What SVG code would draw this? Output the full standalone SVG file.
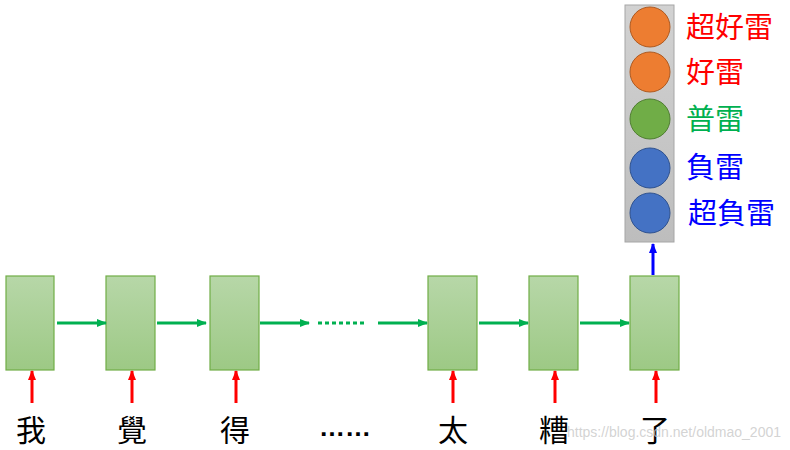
<svg xmlns="http://www.w3.org/2000/svg" width="790" height="450" viewBox="0 0 790 450">
<defs>
<linearGradient id="g" x1="0" y1="0" x2="0" y2="1"><stop offset="0" stop-color="#b7d7a8"/><stop offset="1" stop-color="#9dc985"/></linearGradient>
<linearGradient id="gp" x1="0" y1="0" x2="0" y2="1"><stop offset="0" stop-color="#d2d2d2"/><stop offset="1" stop-color="#bdbdbd"/></linearGradient>
<marker id="ag" viewBox="0 0 10 8" markerWidth="10" markerHeight="8" refX="9" refY="4" orient="auto" markerUnits="userSpaceOnUse"><path d="M0,0L10,4L0,8z" fill="#00b050"/></marker>
<marker id="ar2" viewBox="0 0 10 8" markerWidth="10" markerHeight="8" refX="9" refY="4" orient="auto" markerUnits="userSpaceOnUse"><path d="M0,0L10,4L0,8z" fill="#ff0000"/></marker>
<marker id="ab" viewBox="0 0 10 8" markerWidth="10" markerHeight="8" refX="9" refY="4" orient="auto" markerUnits="userSpaceOnUse"><path d="M0,0L10,4L0,8z" fill="#0000ff"/></marker>
</defs>
<style>
.box{fill:url(#g);stroke:#70ad47;stroke-width:1.2}
.w{font-family:"Liberation Serif","Noto Sans CJK TC",serif;font-size:30px;fill:#000;text-anchor:middle}
.l{font-family:"Liberation Serif","Noto Sans CJK TC",serif;font-size:29px}
.ga{stroke:#00b050;stroke-width:3;fill:none;marker-end:url(#ag)}
.ra{stroke:#ff0000;stroke-width:3;fill:none;marker-end:url(#ar2)}
</style>
<g id="output">
<rect x="625" y="5" width="49" height="237" fill="url(#gp)" stroke="#a6a6a6"/>
<circle cx="650" cy="27" r="20" fill="#ed7d31" stroke="#ae5a21"/>
<circle cx="650" cy="72" r="20" fill="#ed7d31" stroke="#ae5a21"/>
<circle cx="650" cy="119" r="20" fill="#70ad47" stroke="#507e32"/>
<circle cx="650" cy="168" r="20" fill="#4472c4" stroke="#2f528f"/>
<circle cx="650" cy="213" r="20" fill="#4472c4" stroke="#2f528f"/>
<text class="l" x="686" y="38" fill="#ff0000">超好雷</text>
<text class="l" x="686" y="83" fill="#ff0000">好雷</text>
<text class="l" x="686" y="130" fill="#00b050">普雷</text>
<text class="l" x="686" y="178" fill="#0000ff">負雷</text>
<text class="l" x="688" y="224" fill="#0000ff">超負雷</text>
</g>
<g id="n1"><rect class="box" x="6" y="276" width="48" height="94"/><text class="w" x="31" y="441">我</text></g>
<g id="n2"><rect class="box" x="106" y="276" width="49" height="94"/><text class="w" x="132" y="441">覺</text></g>
<g id="n3"><rect class="box" x="210" y="276" width="49" height="94"/><text class="w" x="235" y="441">得</text></g>
<g id="n4"><rect class="box" x="428" y="276" width="49" height="94"/><text class="w" x="453" y="441">太</text></g>
<g id="n5"><rect class="box" x="529" y="276" width="49" height="94"/><text class="w" x="554" y="441">糟</text></g>
<g id="n6"><rect class="box" x="630" y="276" width="49" height="94"/><text class="w" x="655" y="441">了</text></g>
<g id="dots"><text x="345" y="436" font-family="Liberation Sans,sans-serif" font-weight="bold" font-size="26" text-anchor="middle">……</text></g>
<g id="connectors">
<line class="ga" x1="57" y1="323" x2="106" y2="323"/>
<line class="ga" x1="157" y1="323" x2="206" y2="323"/>
<line class="ga" x1="260" y1="323" x2="309" y2="323"/>
<line x1="318" y1="323" x2="365" y2="323" stroke="#00b050" stroke-width="3" stroke-dasharray="4,3"/>
<line class="ga" x1="378" y1="323" x2="427" y2="323"/>
<line class="ga" x1="479" y1="323" x2="528" y2="323"/>
<line class="ga" x1="580" y1="323" x2="629" y2="323"/>
<line class="ra" x1="32" y1="403" x2="32" y2="371"/>
<line class="ra" x1="132" y1="403" x2="132" y2="371"/>
<line class="ra" x1="236" y1="403" x2="236" y2="371"/>
<line class="ra" x1="453" y1="403" x2="453" y2="371"/>
<line class="ra" x1="555" y1="403" x2="555" y2="371"/>
<line class="ra" x1="656" y1="403" x2="656" y2="371"/>
<line x1="653" y1="275" x2="653" y2="244" stroke="#0000ff" stroke-width="3" marker-end="url(#ab)"/>
</g>
<text x="781" y="437" font-family="Liberation Sans,sans-serif" font-size="14" fill="#c8c8c8" fill-opacity="0.8" text-anchor="end">https://blog.csdn.net/oldmao_2001</text>
</svg>
